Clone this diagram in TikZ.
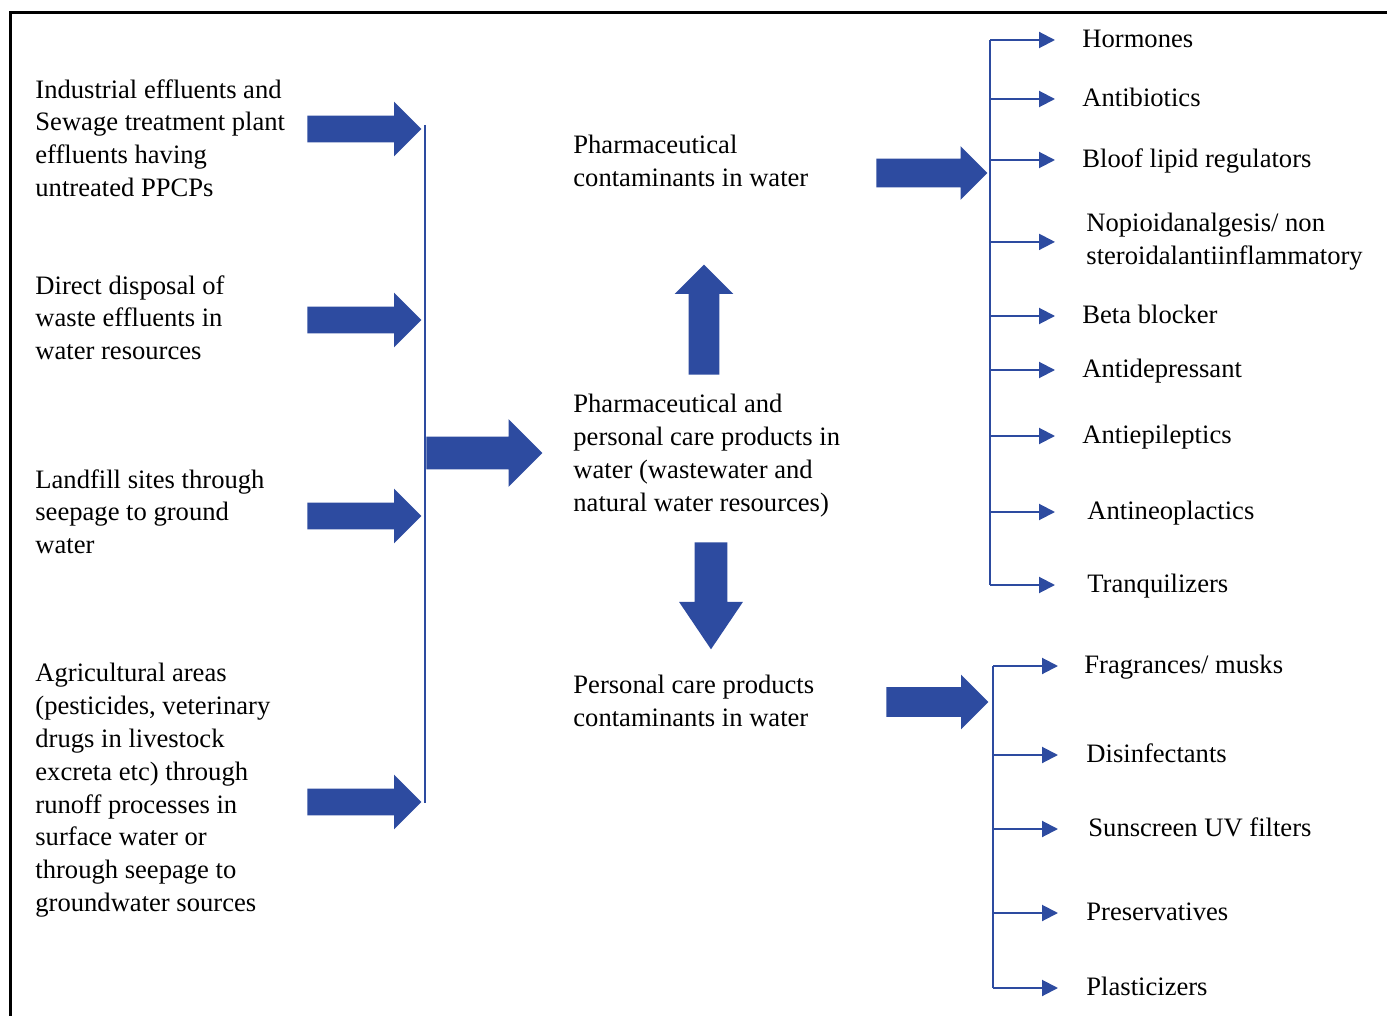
\documentclass[tikz,border=0pt]{standalone}
\usepackage{fontspec}
\setmainfont{Liberation Serif}
\usetikzlibrary{shapes.arrows,arrows.meta}
\definecolor{ppblue}{RGB}{45,75,160}
\tikzset{
    src-text/.style = {align=left, anchor=north west, inner sep=0pt, font=\fontsize{13.3}{16.4}\selectfont},
    item-text/.style = {anchor=west, inner sep=0pt, text height=10.5pt, text depth=3pt, font=\fontsize{13.3}{16.4}\selectfont},
    fat-arrow/.style = {single arrow, fill=ppblue, draw=none, anchor=tip},
    bar/.style = {draw=ppblue, line width=1pt},
    branch/.style = {draw=ppblue, line width=1pt, -{Triangle[length=8pt, width=8pt]}},
}

\begin{document}
\begin{tikzpicture}[x=0.5pt, y=-0.5pt]
\useasboundingbox (0,0) rectangle (1387,1016);
\draw[line width=1.5pt] (10,1016) -- (10,13) -- (1387,13);

% sources
\node[src-text] (src1) at (35,79) {Industrial effluents and\\Sewage treatment plant\\effluents having\\untreated PPCPs};
\node[src-text] (src2) at (35,275) {Direct disposal of\\waste effluents in\\water resources};
\node[src-text] (src3) at (35,469) {Landfill sites through\\seepage to ground\\water};
\node[src-text] (src4) at (35,663) {Agricultural areas\\(pesticides, veterinary\\drugs in livestock\\excreta etc) through\\runoff processes in\\surface water or\\through seepage to\\groundwater sources};

\node[fat-arrow, minimum height=57pt, inner sep=6.5pt, single arrow head extend=7pt] (in1) at (422,129) {};
\node[fat-arrow, minimum height=57pt, inner sep=6.5pt, single arrow head extend=7pt] (in2) at (422,320) {};
\node[fat-arrow, minimum height=57pt, inner sep=6.5pt, single arrow head extend=7pt] (in3) at (422,516) {};
\node[fat-arrow, minimum height=57pt, inner sep=6.5pt, single arrow head extend=7pt] (in4) at (422,802) {};

\coordinate (lbar-top) at (425,125);
\coordinate (lbar-bot) at (425,803);
\draw[bar] (lbar-top) -- (lbar-bot);

% middle column
\node[src-text] (pharma) at (573,135) {Pharmaceutical\\contaminants in water};
\node[src-text] (ppcp) at (573,394) {Pharmaceutical and\\personal care products in\\water (wastewater and\\natural water resources)};
\node[src-text] (pcp) at (573,675) {Personal care products\\contaminants in water};

\node[fat-arrow, minimum height=58pt, inner sep=8pt, single arrow head extend=8.75pt] (toppcp) at (543,453) {};
\node[fat-arrow, shape border rotate=90, minimum height=55pt, inner sep=7.5pt, single arrow head extend=7pt] (up) at (704,264) {};
\node[fat-arrow, shape border rotate=270, minimum height=53.5pt, inner sep=8pt, single arrow head extend=7.75pt, single arrow tip angle=68] (down) at (711,650) {};

% pharmaceuticals
\node[fat-arrow, minimum height=55.5pt, inner sep=7pt, single arrow head extend=6.25pt] (outph) at (988,173) {};
\node[item-text] (hormones) at (1082,40) {Hormones};
\node[item-text] (antibiotics) at (1082,99) {Antibiotics};
\node[item-text] (lipid) at (1082,160) {Bloof lipid regulators};
\node[src-text] (nsaid) at (1086,213) {Nopioidanalgesis/ non\\steroidalantiinflammatory};
\node[item-text] (beta) at (1082,316) {Beta blocker};
\node[item-text] (antidep) at (1082,370) {Antidepressant};
\node[item-text] (antiepi) at (1082,436) {Antiepileptics};
\node[item-text] (antineo) at (1087,512) {Antineoplactics};
\node[item-text] (tranq) at (1087,585) {Tranquilizers};

\coordinate (ub) at (990,0);
\draw[bar] (hormones -| ub) -- (tranq -| ub);
\foreach \n in {hormones, antibiotics, lipid, nsaid, beta, antidep, antiepi, antineo, tranq}
    \draw[branch] (\n -| ub) -- ++(65,0);

% personal care products
\node[fat-arrow, minimum height=51pt, inner sep=7.25pt, single arrow head extend=6.25pt] (outpc) at (989,702) {};
\node[item-text] (fragrances) at (1084,666) {Fragrances/ musks};
\node[item-text] (disinf) at (1086,755) {Disinfectants};
\node[item-text] (sunscreen) at (1088,829) {Sunscreen UV filters};
\node[item-text] (preserv) at (1086,913) {Preservatives};
\node[item-text] (plastic) at (1086,988) {Plasticizers};

\coordinate (lb) at (993,0);
\draw[bar] (fragrances -| lb) -- (plastic -| lb);
\foreach \n in {fragrances, disinf, sunscreen, preserv, plastic}
    \draw[branch] (\n -| lb) -- ++(65,0);
\end{tikzpicture}
\end{document}
